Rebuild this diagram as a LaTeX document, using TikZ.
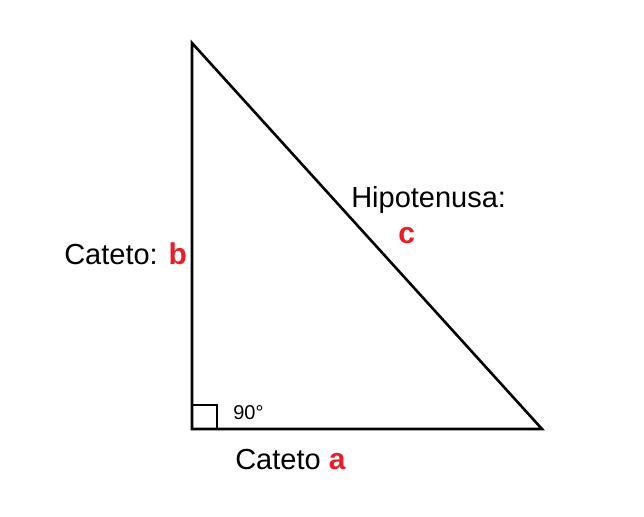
\documentclass[tikz,border=0pt]{standalone}
\usepackage{fontspec}
\setmainfont{Liberation Sans}
\usetikzlibrary{positioning}
\definecolor{legRed}{RGB}{237,28,36}

\begin{document}
\begin{tikzpicture}[x=1pt, y=-1pt, line width=2.6pt,
    every node/.style={font=\fontsize{29}{32}\selectfont, inner sep=0pt, anchor=base west},
    letter/.style={legRed, font=\fontsize{30}{32}\selectfont\bfseries}]
  \useasboundingbox (0,0) rectangle (644,516);
  % Corners
  \coordinate (top) at (192,43);
  \coordinate (rgt) at (192,429);
  \coordinate (end) at (542,429);
  % Triangle
  \draw[line join=miter] (top) -- (rgt) -- (end) -- cycle;
  \draw[line width=2.2pt] (192,405) -| (217,429);
  % Labels
  \node (catb) at (63,264) {Cateto: {\fontsize{30}{32}\selectfont\textcolor{legRed}{\bfseries b}}};
  \node (hipo) at (350,207) {Hipotenusa:};
  \node[letter] (hipc) at (397,243) {c};
  \node[font=\fontsize{20}{24}\selectfont] (deg) at (232,419) {90°};
  \node (cata) at (234,469) {Cateto {\fontsize{30}{32}\selectfont\textcolor{legRed}{\bfseries a}}};
\end{tikzpicture}
\end{document}
